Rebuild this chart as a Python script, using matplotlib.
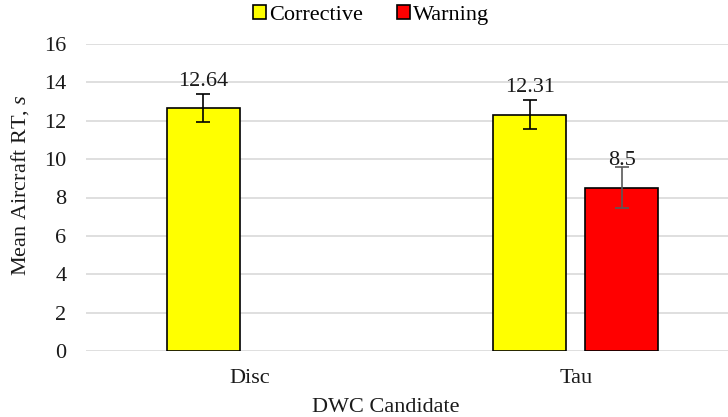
import numpy as np
import matplotlib.pyplot as plt

plt.rcParams['font.family'] = ['Liberation Serif', 'DejaVu Serif']
plt.rcParams['mathtext.fontset'] = 'custom'
plt.rcParams['mathtext.rm'] = 'Liberation Serif'
plt.rcParams['mathtext.it'] = 'Liberation Serif:italic'

categories = ['Disc', 'Tau']
corrective = [12.64, 12.31]
corrective_err = [0.73, 0.75]
warning = [np.nan, 8.5]
warning_err = [np.nan, 1.07]
series_names = ['Corrective', 'Warning']

FS = 16
TXT = '#1a1a1a'

fig = plt.figure(figsize=(7.28, 4.17), dpi=100)
ax = fig.add_axes([86 / 728, 1 - 351 / 417, (739 - 86) / 728, (351 - 44) / 417])

x = np.arange(len(categories))
w = 0.224
off = 0.141

b1 = ax.bar(x - off, corrective, w, color='#ffff00', edgecolor='black', linewidth=1.2,
            label=series_names[0], zorder=3)
ax.errorbar(x - off, corrective, yerr=corrective_err, fmt='none', ecolor='black',
            elinewidth=1.2, capsize=5, capthick=1.2, zorder=4)

b2 = ax.bar(x + off, warning, w, color='#ff0000', edgecolor='black', linewidth=1.2,
            label=series_names[1], zorder=3)
ax.errorbar(x + off, warning, yerr=warning_err, fmt='none', ecolor='#595959',
            elinewidth=1.2, capsize=5, capthick=1.2, zorder=4)

for xs, vals in [(x - off, corrective), (x + off, warning)]:
    for xi, v in zip(xs, vals):
        if np.isnan(v):
            continue
        ax.annotate(f'{v:g}', (xi, v), xytext=(0, 27), textcoords='offset pixels',
                    ha='center', va='center', fontsize=FS, color=TXT, zorder=5)

ax.set_xlim(-0.5, 1.5)
ax.set_ylim(0, 16)
ax.set_yticks(np.arange(0, 17, 2))
ax.yaxis.grid(True, color='#d9d9d9', linewidth=1.2, zorder=0)
ax.set_axisbelow(True)
for s in ax.spines.values():
    s.set_visible(False)
ax.tick_params(axis='both', length=0, labelsize=FS, colors=TXT)
ax.tick_params(axis='y', pad=14)
ax.tick_params(axis='x', pad=13)
ax.set_xticks(x)
ax.set_xticklabels(categories)

fig.text(20 / 728, 1 - 185 / 417, 'Mean Aircraft RT, $\\it{s}$', rotation=90,
         ha='center', va='center', fontsize=FS, color=TXT)
fig.text(386 / 728, 1 - 407 / 417, 'DWC Candidate', ha='center', va='center',
         fontsize=FS, color=TXT)

fig.legend(handles=[b1, b2], loc='center', bbox_to_anchor=(371 / 728, 1 - 15 / 417),
           ncol=2, frameon=False, fontsize=FS, handlelength=0.6, handleheight=0.6,
           handletextpad=0.15, columnspacing=1.5, borderpad=0)

fig.savefig('out.png', dpi=100)
